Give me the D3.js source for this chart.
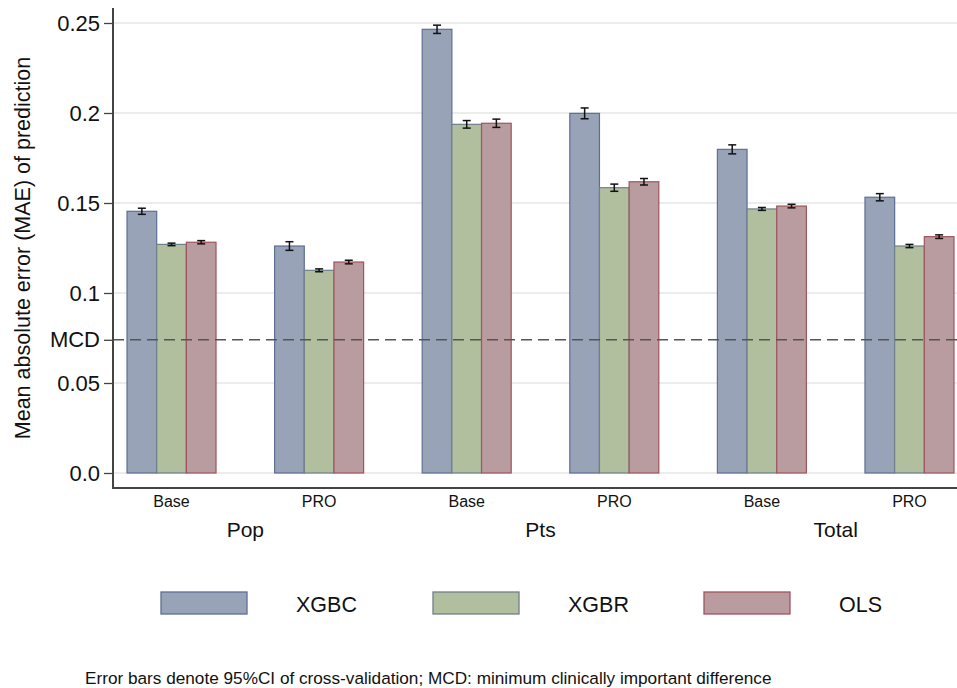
<!DOCTYPE html>
<html>
<head>
<meta charset="utf-8">
<script src="https://cdn.jsdelivr.net/npm/d3@7"></script>
<style>
  html, body { margin: 0; padding: 0; background: #fff; }
  svg { display: block; font-family: "Liberation Sans", Arial, Helvetica, sans-serif; }
</style>
</head>
<body>
<svg id="chart" width="957" height="688"></svg>
<script>
// Bar groups: outcome x model specification
const outcomes = ["Pop", "Pts", "Total"];
const specs = ["Base", "PRO"];
const groupKeys = ["Pop|Base", "Pop|PRO", "Pts|Base", "Pts|PRO", "Total|Base", "Total|PRO"];
const models = ["XGBC", "XGBR", "OLS"];

// Mean absolute error per group, one array per model
const maeXGBC = [0.1454, 0.1261, 0.2465, 0.1998, 0.1798, 0.1532];
const maeXGBR = [0.1270, 0.1126, 0.1937, 0.1585, 0.1467, 0.1261];
const maeOLS  = [0.1282, 0.1172, 0.1943, 0.1618, 0.1483, 0.1313];

// Half-width of the 95% CI from cross-validation
const ciXGBC = [0.0017, 0.0024, 0.0023, 0.0030, 0.0025, 0.0020];
const ciXGBR = [0.0007, 0.0008, 0.0021, 0.0020, 0.0008, 0.0009];
const ciOLS  = [0.0009, 0.0010, 0.0023, 0.0018, 0.0010, 0.0010];

const yTicks = [0, 0.05, 0.1, 0.15, 0.2, 0.25];
const yTickLabels = ["0.0", "0.05", "0.1", "0.15", "0.2", "0.25"];
const mcdValue = 0.074;
const mcdLabel = "MCD";

const fills = { XGBC: "#98a3b8", XGBR: "#b2bf9e", OLS: "#b99c9f" };
const strokes = { XGBC: "#5c6f93", XGBR: "#6f7f8c", OLS: "#a0545c" };

const maeBy = { XGBC: maeXGBC, XGBR: maeXGBR, OLS: maeOLS };
const ciBy = { XGBC: ciXGBC, XGBR: ciXGBR, OLS: ciOLS };

const rows = [];
groupKeys.forEach((g, i) => {
  models.forEach(m => rows.push({ group: g, model: m, value: maeBy[m][i], ci: ciBy[m][i] }));
});

const svg = d3.select("#chart");
const plotLeft = 113, plotRight = 957, plotTop = 8, axisY = 488;

const y = d3.scaleLinear().domain([0, 0.25]).range([473, 23]);
const x0 = d3.scaleBand().domain(groupKeys).range([plotLeft, 968])
  .paddingInner(0.397).paddingOuter(0.095);
const x1 = d3.scaleBand().domain(models).range([0, x0.bandwidth()]);

// Gridlines
svg.append("g").selectAll("line").data(yTicks).join("line")
  .attr("x1", plotLeft).attr("x2", plotRight)
  .attr("y1", d => y(d)).attr("y2", d => y(d))
  .attr("stroke", "#e6e6e6").attr("stroke-width", 1.5);

// Bars
svg.append("g").selectAll("rect").data(rows).join("rect")
  .attr("x", d => x0(d.group) + x1(d.model))
  .attr("y", d => y(d.value))
  .attr("width", x1.bandwidth())
  .attr("height", d => y(0) - y(d.value))
  .attr("fill", d => fills[d.model])
  .attr("stroke", d => strokes[d.model])
  .attr("stroke-width", 1.2);

// MCD reference line
svg.append("line")
  .attr("x1", plotLeft).attr("x2", plotRight)
  .attr("y1", y(mcdValue)).attr("y2", y(mcdValue))
  .attr("stroke", "#555").attr("stroke-width", 1.6)
  .attr("stroke-dasharray", "11,6");

// Error bars
const eb = svg.append("g").attr("stroke", "#111").attr("stroke-width", 1.5);
rows.forEach(d => {
  const cx = x0(d.group) + x1(d.model) + x1.bandwidth() / 2;
  eb.append("line").attr("x1", cx).attr("x2", cx)
    .attr("y1", y(d.value - d.ci)).attr("y2", y(d.value + d.ci));
  [d.value - d.ci, d.value + d.ci].forEach(v => {
    eb.append("line").attr("x1", cx - 4).attr("x2", cx + 4)
      .attr("y1", y(v)).attr("y2", y(v));
  });
});

// Y axis
const yAxis = d3.axisLeft(y)
  .tickValues(yTicks.concat([mcdValue]))
  .tickFormat(d => d === mcdValue ? mcdLabel : yTickLabels[yTicks.indexOf(d)])
  .tickSize(9).tickPadding(4);
const gy = svg.append("g").attr("transform", `translate(${plotLeft},0)`).call(yAxis);
gy.select(".domain").remove();
gy.selectAll(".tick line").attr("stroke", "#444").attr("stroke-width", 1.3);
gy.selectAll(".tick text").attr("font-size", 22).attr("fill", "#111")
  .attr("font-family", "Liberation Sans, Arial, sans-serif");
svg.append("line").attr("x1", plotLeft).attr("x2", plotLeft).attr("y1", plotTop).attr("y2", axisY + 1)
  .attr("stroke", "#444").attr("stroke-width", 2);

// X axis line
svg.append("line").attr("x1", plotLeft).attr("x2", plotRight).attr("y1", axisY).attr("y2", axisY)
  .attr("stroke", "#444").attr("stroke-width", 2);

// Spec labels under each bar group
svg.append("g").selectAll("text").data(groupKeys).join("text")
  .attr("x", d => x0(d) + x0.bandwidth() / 2)
  .attr("y", 507)
  .attr("text-anchor", "middle").attr("font-size", 16).attr("fill", "#111")
  .text(d => d.split("|")[1]);

// Outcome labels centred under each pair of groups
svg.append("g").selectAll("text").data(outcomes).join("text")
  .attr("x", o => {
    const a = x0(o + "|" + specs[0]) + x0.bandwidth() / 2;
    const b = x0(o + "|" + specs[1]) + x0.bandwidth() / 2;
    return (a + b) / 2;
  })
  .attr("y", 537)
  .attr("text-anchor", "middle").attr("font-size", 21).attr("fill", "#111")
  .text(d => d);

// Y title
svg.append("text")
  .attr("transform", "translate(30,248) rotate(-90)")
  .attr("text-anchor", "middle").attr("font-size", 21.5).attr("fill", "#111")
  .text("Mean absolute error (MAE) of prediction");

// Legend
const legendX = [161, 433, 704];
const leg = svg.append("g");
models.forEach((m, i) => {
  leg.append("rect").attr("x", legendX[i]).attr("y", 592).attr("width", 86).attr("height", 22)
    .attr("fill", fills[m]).attr("stroke", strokes[m]).attr("stroke-width", 1.3);
  leg.append("text").attr("x", legendX[i] + 135).attr("y", 612)
    .attr("font-size", 21.5).attr("fill", "#111").text(m);
});

// Note
svg.append("text").attr("x", 85).attr("y", 684).attr("font-size", 17.2).attr("fill", "#111")
  .text("Error bars denote 95%CI of cross-validation; MCD: minimum clinically important difference");
</script>
</body>
</html>
